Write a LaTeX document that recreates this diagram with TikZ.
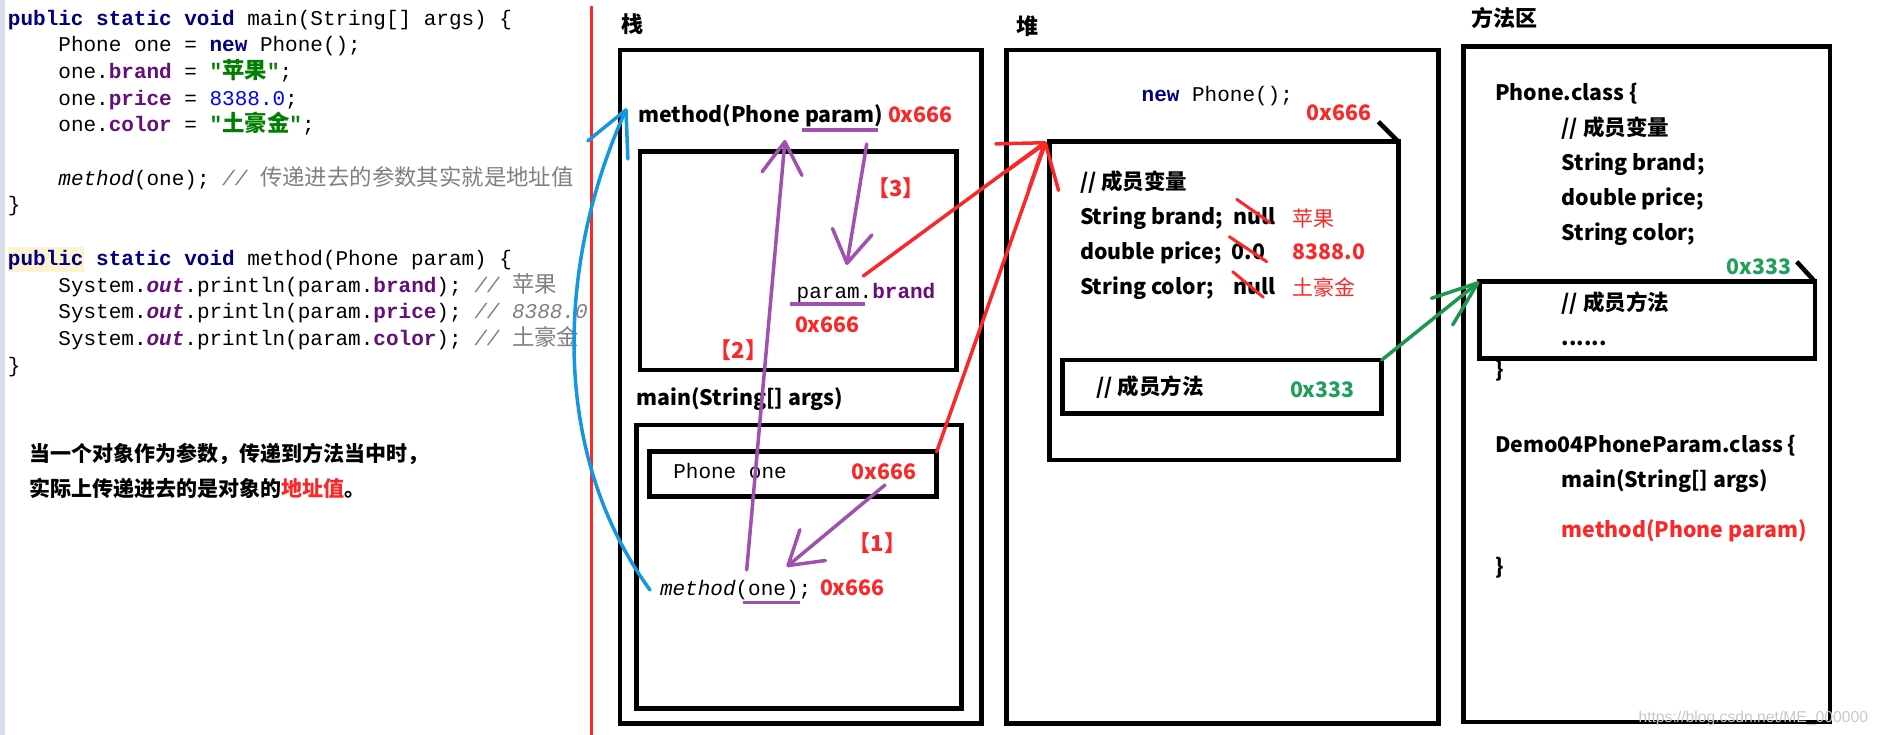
\documentclass[tikz,border=0pt]{standalone}
\usepackage{fontspec}
\setmainfont{Noto Sans CJK SC}
\newfontfamily\codefont{Liberation Mono}
\newfontfamily\cjkfont{Noto Sans CJK SC}
\newfontfamily\wmfont{Liberation Sans}
\usetikzlibrary{arrows.meta}
\definecolor{kwc}{RGB}{0,0,128}
\definecolor{fldc}{RGB}{102,14,122}
\definecolor{strc}{RGB}{0,128,0}
\definecolor{numc}{RGB}{0,0,255}
\definecolor{cmtc}{RGB}{128,128,128}
\definecolor{redc}{RGB}{250,40,40}
\definecolor{purc}{RGB}{160,80,175}
\definecolor{bluc}{RGB}{20,150,225}
\definecolor{grnc}{RGB}{30,150,80}
\definecolor{grnt}{RGB}{30,160,90}
\definecolor{hlc}{RGB}{253,243,208}
\definecolor{stripc}{RGB}{216,221,236}
\definecolor{wmc}{RGB}{200,200,200}
\newcommand\lf{\fontsize{21.3}{26}\selectfont\bfseries}
\newcommand\cf{\codefont\fontsize{21.0}{25}\selectfont}
\newcommand\zh[1]{{\fontsize{21.5}{26}\selectfont #1}}
\newcommand\kw[1]{{\color{kwc}\bfseries #1}}
\newcommand\fld[1]{{\color{fldc}\bfseries #1}}
\newcommand\strg[1]{{\color{strc}\bfseries #1}}
\newcommand\cnum[1]{{\color{numc}#1}}
\newcommand\cmt[1]{{\color{cmtc}\itshape #1}}
\newcommand\outf[1]{{\color{fldc}\bfseries\itshape #1}}
\newcommand\zhcode[1]{{\cjkfont\upshape\fontsize{22.4}{28}\selectfont #1}}
\begin{document}
\begin{tikzpicture}[x=1pt,y=-1pt,
  box/.style={draw=black,line width=4.5pt,anchor=north west,inner sep=0pt,outer sep=0pt},
  lbl/.style={anchor=base west,inner sep=0pt,outer sep=0pt,font=\lf},
  hdr/.style={anchor=base west,inner sep=0pt,outer sep=0pt,font=\fontsize{22}{26}\selectfont\bfseries},
  code/.style={anchor=base west,inner sep=0pt,outer sep=0pt,font=\cf},
  addr/.style={lbl,text=redc},
  stepmark/.style={anchor=center,inner sep=0pt,outer sep=0pt,text=redc,font=\fontsize{22}{26}\selectfont\bfseries},
  uline/.style={draw=purc,line width=3.5pt},
  strike/.style={draw=redc,line width=3pt,line cap=round},
  chamf/.style={draw=black,line width=4.5pt},
  redarr/.style={draw=redc,line width=3.5pt,line cap=round,-{Straight Barb[length=40pt,width=56pt,round]}},
  purarr/.style={draw=purc,line width=3.5pt,line cap=round,-{Straight Barb[length=32pt,width=40pt,round]}},
  bluarr/.style={draw=bluc,line width=3.5pt,line cap=round,-{Straight Barb[length=44pt,width=44pt,round]}},
  grnarr/.style={draw=grnc,line width=3.5pt,line cap=round,-{Straight Barb[length=46pt,width=34pt,round]}}
]
\useasboundingbox (0,0) rectangle (1878,735);
\fill[white] (0,0) rectangle (1878,735);
\fill[stripc] (0,0) rectangle (5,735);

% ---------------- code panel ----------------
\fill[hlc] (8,246.7) rectangle (83.6,271.7);
\node[code] (code0) at (8,25.3) {\kw{public static void} main(String[] args) \{};
\node[code] (code1) at (58.4,52) {Phone one = \kw{new} Phone();};
\node[code] (code2) at (58.4,78.7) {one.\fld{brand} = \strg{"\zhcode{苹果}"};};
\node[code] (code3) at (58.4,105.3) {one.\fld{price} = \cnum{8388.0};};
\node[code] (code4) at (58.4,132) {one.\fld{color} = \strg{"\zhcode{土豪金}"};};
\node[code] (code6) at (58.4,185.3) {\textit{method}(one); \cmt{// \zhcode{传递进去的参数其实就是地址值}}};
\node[code] (code7) at (8,212) {\}};
\node[code] (code9) at (8,265.3) {\kw{public static void} method(Phone param) \{};
\node[code] (code10) at (58.4,292) {System.\outf{out}.println(param.\fld{brand}); \cmt{// \zhcode{苹果}}};
\node[code] (code11) at (58.4,318.7) {System.\outf{out}.println(param.\fld{price}); \cmt{// 8388.0}};
\node[code] (code12) at (58.4,345.3) {System.\outf{out}.println(param.\fld{color}); \cmt{// \zhcode{土豪金}}};
\node[code] (code13) at (8,372) {\}};

\node[anchor=base west,inner sep=0pt,font=\fontsize{21}{26}\selectfont\bfseries] (note1) at (29.6,461.3) {当一个对象作为参数，传递到方法当中时，};
\node[anchor=base west,inner sep=0pt,font=\fontsize{21}{26}\selectfont\bfseries] (note2) at (29.6,496.3) {实际上传递进去的是对象的\textcolor{redc}{地址值}。};

\draw[redc,line width=3.5pt] (591.7,6) -- (591.7,735);

% ---------------- stack ----------------
\node[hdr] (stackT) at (621,33) {栈};
\node[box,minimum width=361.7pt,minimum height=673.3pt] (stack) at (620,50) {};
\node[box,minimum width=316.7pt,minimum height=218.3pt] (mframe) at (640,151.7) {};
\node[lbl] (mlabel) at (638.3,122.5) {method(Phone param)};
\node[addr] (maddr) at (888,122.5) {0x666};
\draw[uline] (801.7,130) -- (878.3,130);
\node[stepmark] (m3) at (895.8,188.3) {【3】};
\node[code] (pbrand) at (796.7,298.7) {param.\fld{brand}};
\draw[uline] (790,304) -- (865,304);
\node[addr] (pbaddr) at (795,332.5) {0x666};
\node[stepmark] (m2) at (738.3,350) {【2】};
\node[lbl] (mainlabel) at (636.7,405.8) {main(String[] args)};
\node[box,minimum width=325pt,minimum height=283.3pt] (mainframe) at (636.7,425) {};
\node[box,minimum width=287.4pt,minimum height=45pt] (onebox) at (649.3,451.7) {};
\node[code] (onetxt) at (673.3,478.7) {Phone one};
\node[addr] (oneaddr) at (851.7,479.2) {0x666};
\node[stepmark] (m1) at (877.5,543.3) {【1】};
\node[code] (call) at (660,595.3) {\textit{method}(one);};
\node[addr] (calladdr) at (820,595.5) {0x666};
\draw[uline] (743.3,602.7) -- (800,602.7);

% ---------------- heap ----------------
\node[hdr] (heapT) at (1016.7,34.7) {堆};
\node[box,minimum width=431.6pt,minimum height=673.3pt] (heap) at (1006.7,50) {};
\node[code] (newtxt) at (1141.7,102) {\kw{new} Phone();};
\node[addr] (objaddr) at (1306.7,120.8) {0x666};
\node[box,minimum width=349pt,minimum height=318.3pt] (obj) at (1049.3,141.7) {};
\draw[chamf] (1378.3,121.7) -- (obj.north east);
\node[lbl] (h1) at (1080,189.2) {// \zh{成员变量}};
\node[lbl] (h2) at (1080,224.2) {String brand;};
\node[lbl] (h2n) at (1233.3,224.2) {null};
\node[anchor=base west,inner sep=0pt,text=redc,font=\fontsize{21}{26}\selectfont] (h2v) at (1292.7,226.3) {苹果};
\node[lbl] (h3) at (1080,259.2) {double price;};
\node[lbl] (h3n) at (1231.7,259.2) {0.0};
\node[addr] (h3v) at (1292.7,259.2) {8388.0};
\node[lbl] (h4) at (1080,294.8) {String color;};
\node[lbl] (h4n) at (1233.3,294.8) {null};
\node[anchor=base west,inner sep=0pt,text=redc,font=\fontsize{21}{26}\selectfont] (h4v) at (1292.7,295.3) {土豪金};
\draw[strike] (1236.7,199.3) -- (1270,222.7);
\draw[strike] (1229.3,236.7) -- (1266.7,261.7);
\draw[strike] (1232.7,271.7) -- (1263.3,297.3);
\node[box,minimum width=319pt,minimum height=53.3pt] (mbox) at (1062.7,360) {};
\node[lbl] (mbtxt) at (1096.7,394.2) {// \zh{成员方法}};
\node[lbl,text=grnt] (mbaddr) at (1290,397.5) {0x333};

% ---------------- method area ----------------
\node[hdr] (areaT) at (1471.7,26.3) {方法区};
\node[box,minimum width=366.7pt,minimum height=675.3pt] (area) at (1463.3,46.7) {};
\node[lbl] (a1) at (1495,100.8) {Phone.class \{};
\node[lbl] (a2) at (1561.7,135.8) {// \zh{成员变量}};
\node[lbl] (a3) at (1561.7,170.8) {String brand;};
\node[lbl] (a4) at (1561.7,205.8) {double price;};
\node[lbl] (a5) at (1561.7,240.8) {String color;};
\node[lbl,text=grnt] (a6) at (1726.7,274.2) {0x333};
\node[box,minimum width=335.7pt,minimum height=76.6pt] (ibox) at (1479.3,281.7) {};
\draw[chamf] (1796.7,261.7) -- (ibox.north east);
\node[lbl] (a7) at (1561.7,310.8) {// \zh{成员方法}};
\node[lbl] (a8) at (1561.7,345) {......};
\node[lbl] (a9) at (1495,377.5) {\}};
\node[lbl] (a10) at (1495,452.5) {Demo04PhoneParam.class \{};
\node[lbl] (a11) at (1561.7,487.5) {main(String[] args)};
\node[lbl,text=redc] (a12) at (1561.7,537.5) {method(Phone param)};
\node[lbl] (a13) at (1495,574.2) {\}};

\node[anchor=base west,inner sep=0pt,text=wmc,font=\wmfont\fontsize{15.7}{18}\selectfont] (wm) at (1638.3,722) {https://blog.csdn.net/ME\_000000};

% ---------------- connectors ----------------
\coordinate (bS) at (650,590);
\coordinate (bE) at (626.7,108.3);
\draw[bluarr] (bS) .. controls (548,450) and (558,260) .. (bE);
\coordinate (p1s) at (885,485);
\coordinate (p1e) at (786.7,566.7);
\draw[purarr] (p1s) -- (p1e);
\coordinate (p2s) at (746.7,570);
\coordinate (p2e) at (785,140);
\draw[purarr] (p2s) -- (p2e);
\coordinate (p3s) at (866.7,144);
\coordinate (p3e) at (846.7,265);
\draw[purarr] (p3s) -- (p3e);
\coordinate (r1s) at (863.3,276);
\coordinate (rE) at (1046,141.7);
\draw[redarr] (r1s) -- (rE);
\draw[redarr] (onebox.north east) -- (rE);
\draw[grnarr] (mbox.north east) -- (ibox.north west);
\end{tikzpicture}
\end{document}
